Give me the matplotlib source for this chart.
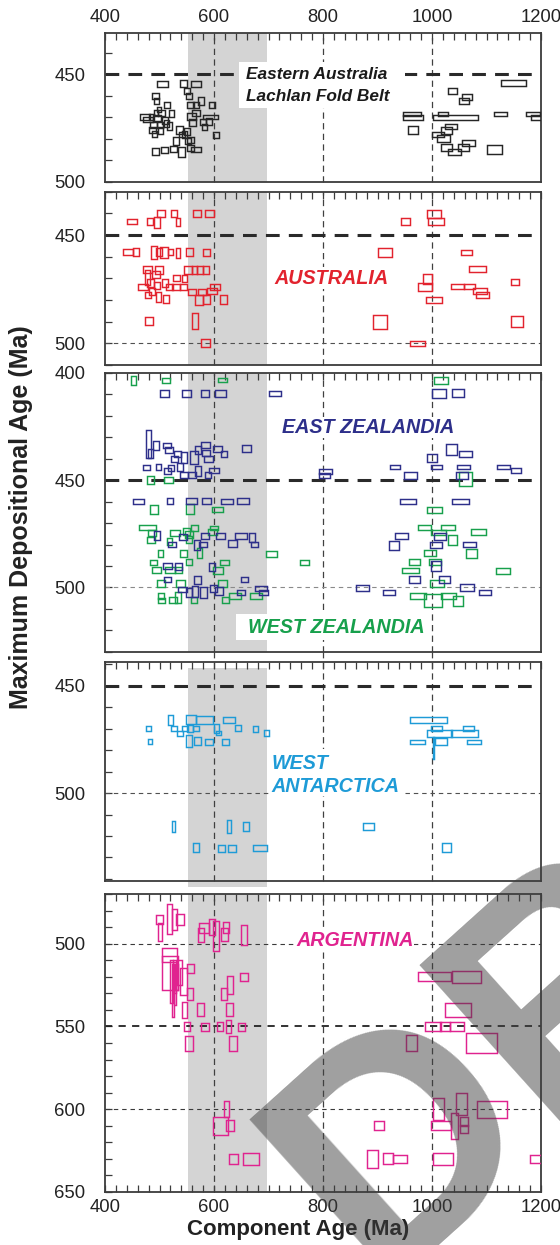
import matplotlib
matplotlib.use("Agg")
import matplotlib.pyplot as plt
from matplotlib.patches import Rectangle
from matplotlib.ticker import MultipleLocator, FixedLocator
import matplotlib.transforms as mtransforms

plt.rcParams['font.family'] = ['Liberation Sans', 'DejaVu Sans']

# ---------------------------------------------------------------- data
# each sample: component age (Ma) +/- half-range, depositional age (Ma) +/- half-range

# Eastern Australia - Lachlan Fold Belt
lfb_x = [506, 544, 567, 493, 494, 550, 554, 514, 557, 567, 576, 597, 473, 479, 496, 504,
         518, 522, 489, 487, 491, 501, 559, 567, 561, 594, 580, 591, 604, 537, 541, 550,
         557, 530, 557, 567, 540, 526, 509, 493, 485, 510, 499, 513, 494, 502, 583, 546, 552,
         1150, 1037, 1064, 1059, 964, 965, 1020, 1043, 1126, 1186, 1191, 965, 1035, 1026,
         1011, 1021, 1067, 1026, 1041, 1058, 1115]
lfb_dx = [10, 7, 8.5, 6, 4.5, 5.5, 5.5, 5.5, 6, 6, 5, 5.5, 9, 9, 7.5, 6,
          4.5, 4.5, 6, 6, 5, 6, 8, 6.5, 6.5, 13.5, 5.5, 6, 6, 6, 5, 5.5,
          6, 6, 6, 10, 6, 6, 6, 6, 5, 5, 4, 5, 4, 4.5, 5, 4, 5,
          23, 8, 9, 9, 16.5, 18.5, 9, 41.5, 11.5, 13, 10, 9.5, 11.5, 10,
          11.5, 11.5, 12.5, 10, 11.5, 10, 14]
lfb_y = [454.5, 454.4, 454.5, 460, 462.6, 457.9, 460.1, 464.3, 464.3, 464.3, 462.3, 464.3,
         469.9, 470.9, 470.5, 468, 474, 468.2, 473.6, 475.9, 477.9, 473.6, 469.7, 468, 472.5,
         470, 472.3, 472, 478.2, 476, 478, 476.7, 480.6, 481, 484.4, 485.2, 486, 484.9,
         485.4, 486, 470, 471.5, 466.5, 473, 468, 476, 474.5, 478, 481,
         454, 457.8, 460.5, 462.5, 468.5, 470, 468.5, 470, 468.5, 468.5, 470, 476, 474.4,
         476, 478, 480, 482, 484.2, 486.2, 484.2, 485.1]
lfb_dy = [1.4, 1.6, 1.4, 1.4, 1.4, 1.4, 1.3, 1.5, 1.5, 1.5, 1.9, 1.5, 1.4, 1.2, 1.5, 1.4,
          1.9, 1.5, 1.5, 1.5, 1.3, 1.5, 1.5, 1.4, 1.5, 1.0, 1.4, 1.5, 1.5, 1.7, 1.3, 1.5,
          1.5, 1.9, 1.5, 1.2, 2.3, 1.5, 1.4, 1.5, 1.3, 1.8, 1.3, 1.5, 1.4, 1.6, 1.5, 1.5, 1.5,
          1.4, 1.4, 1.4, 1.4, 1.1, 1.2, 1.1, 1.2, 1.1, 1.1, 1.1, 1.8, 1.2, 1.6,
          1.2, 1.6, 1.5, 1.6, 1.6, 1.6, 2.0]

# Australia
aus_x = [449, 482, 495, 503, 527, 534, 569, 592, 442, 457, 489, 499, 508, 521, 534, 555,
         586, 478, 499, 478, 493, 531, 546, 552, 564, 574, 585, 469, 483, 486, 479, 495,
         510, 498, 512, 518, 530, 544, 560, 573, 578, 586, 597, 602, 617, 481, 565, 585,
         952, 1004, 1007, 913, 1063, 1084, 992, 987, 1046, 1068, 1088, 1093, 1153, 1003,
         905, 1156, 973]
aus_dx = [9, 5.5, 5, 7, 5, 3.7, 8, 8, 9, 5.5, 5.5, 5, 7.5, 4.5, 4.3, 6.5,
          6, 7.5, 7, 4.5, 7, 6.5, 5, 7, 5, 5.5, 6, 9, 6.5, 6, 6, 6,
          6, 4.3, 5, 6, 7.5, 6.5, 7.5, 7.5, 8, 6, 9, 9, 6, 7.5, 6, 8,
          8, 13, 14.7, 12.8, 10.5, 15.4, 8, 13, 12, 10, 13, 11.5, 7.5, 14.7,
          12.5, 10.8, 14]
aus_y = [443.8, 443.8, 444.1, 440, 440, 444, 440, 440, 457.9, 458, 458, 458, 458, 458,
         458.2, 458, 457.9, 465.8, 466, 469.7, 468.2, 469.9, 470.1, 466, 466, 466, 466,
         473.8, 472, 476.1, 477.8, 473.2, 472, 478.6, 479.5, 474.2, 474.2, 473.9, 476.2,
         480.1, 476.1, 479.9, 475.7, 474.2, 479.7, 489.7, 489.7, 500,
         443.8, 440.2, 443.8, 458, 458.1, 465.6, 470.3, 474.1, 473.9, 473.9, 475.7, 477.9,
         471.8, 479.9, 490, 490, 500.1]
aus_dy = [1.2, 1.5, 2.5, 1.5, 1.5, 1.7, 1.5, 1.5, 1.4, 1.8, 3, 1.8, 2.5, 1.4, 2.3, 1.8,
          1.6, 1.5, 1.8, 3.5, 1.5, 1.4, 1.8, 1.8, 1.8, 1.8, 1.8, 1.4, 1.8, 1.5, 1.5, 1.5,
          1.8, 2.3, 1.7, 1.4, 1.4, 1.5, 1.5, 2.3, 1.4, 2.1, 1.4, 1.4, 2.0, 2.0, 3.5, 1.8,
          1.8, 1.8, 1.8, 2.0, 1.2, 1.4, 2.1, 1.8, 1.1, 1.1, 1.3, 1.4, 1.4, 1.3,
          3.2, 2.5, 1.1]

# East Zealandia
ez_x = [509, 550, 583, 612, 712, 479, 483, 493, 513, 518, 533, 528, 545, 563, 571, 584,
        585, 590, 607, 618, 659, 476, 498, 515, 521, 538, 545, 560, 571, 589, 600,
        461, 519, 558, 586, 623, 653,
        495, 523, 543, 569, 580, 584, 612, 634, 649, 670, 674, 515, 535, 596, 515, 570,
        656, 542, 554, 565, 581, 599, 609, 649, 686, 691,
        1013, 1048, 1036, 1062, 1000, 1008, 1058, 933, 1131, 960, 1055, 805, 803, 1154,
        956, 1052, 944, 930, 1015, 1008, 1068, 1007, 968, 1023, 1064, 1097, 921, 872]
ez_dx = [8, 8.5, 7.3, 9.5, 10.5, 4.6, 5, 5.5, 7.3, 7.3, 6, 6.7, 6, 7, 6, 8.5,
         7.6, 7.6, 8.5, 5.5, 8.2, 6.7, 5, 6.7, 6, 5.5, 7.6, 7.6, 6, 6, 8.5,
         10, 6, 10, 8, 11, 10.7,
         6, 7, 7.6, 5, 7.6, 7, 8.2, 7.6, 10.7, 5.2, 7, 8.5, 7, 6, 7, 6,
         7, 7.6, 5.2, 6, 6.7, 6.7, 7, 7.6, 10.7, 8.2,
         12.2, 11.3, 10, 11.6, 8.5, 9.5, 11.6, 9.2, 11.6, 12.2, 11.3, 11.5, 10.5, 9.8,
         14.7, 15.6, 12.2, 9, 11.6, 11, 12, 9.5, 9.8, 10.7, 12.2, 10.4, 10.7, 11.6]
ez_y = [409.7, 409.7, 409.7, 409.7, 409.6, 433.3, 437.6, 433.7, 433.9, 436, 437.8, 440.1,
        439.5, 439.5, 436, 433.6, 437.4, 440, 435.6, 437.8, 435.4, 444.1, 443.8, 445.8,
        444.1, 443.8, 447.8, 447.8, 445.8, 447.6, 445.6,
        459.8, 459.8, 459.8, 459.8, 459.8, 459.8,
        476, 479.9, 476.4, 480.2, 479.9, 475.9, 476.1, 479.5, 476.1, 476.7, 479.9, 490.2,
        490.2, 490.3, 496.2, 496.6, 496.2, 500.9, 502.6, 502, 502.4, 500.5, 501.8, 502.3,
        500.5, 502.4,
        409.5, 409.4, 435.6, 437.8, 439.6, 443.8, 443.8, 443.8, 443.8, 447.8, 447.8, 445.8,
        447.9, 445.5, 459.8, 459.8, 476.1, 480.4, 476.1, 480.2, 480.1, 490, 496.4, 496.3,
        500.2, 502.3, 502.3, 500.3]
ez_dy = [1.6, 1.6, 1.6, 1.6, 1.2, 6.5, 2.2, 2.1, 1.3, 1.3, 1.6, 1.3, 2.5, 3, 1.8, 1.6,
         1.3, 1.4, 1.4, 1.6, 1.6, 1.1, 1.3, 1.3, 1.4, 1.8, 1.4, 1.4, 2.2, 1.5, 1.1,
         1.2, 1.3, 1.3, 1.3, 1.2, 1.3,
         2.1, 1.3, 1.4, 2.3, 1.3, 1.5, 1.4, 1.7, 1.4, 2.3, 1.3, 1.4, 1.7, 1.9, 1.2, 1.9,
         1.2, 1.2, 2.1, 2.6, 2.7, 1.5, 1.8, 1.3, 1.1, 1.2,
         2.2, 1.8, 2.5, 1.6, 1.8, 1.0, 1.0, 1.0, 1.0, 1.7, 1.7, 1.2, 1.3, 1.0,
         1.2, 1.2, 1.25, 2.0, 1.6, 1.3, 1.2, 2.2, 1.6, 1.5, 1.7, 1.2, 1.2, 1.4]

# West Zealandia
wz_x = [452, 512, 616, 1016, 483, 516, 490, 556, 606, 478, 486, 484, 528, 518, 549, 564,
        554, 555, 600, 598, 502, 544, 573, 489, 494, 519, 535, 555, 607, 619, 503, 538,
        616, 503, 504, 525, 534, 564, 621, 639, 677, 705, 766,
        1005, 986, 1029, 1012, 1086, 1038, 1072, 996, 968, 961, 1005, 1130, 1009, 974,
        1002, 1031, 1047, 1062]
wz_dx = [4.9, 7.3, 8.2, 13, 6.7, 8, 7, 6.5, 10, 15.6, 7, 7.6, 9, 4.5, 6.5, 7,
         7, 5.5, 8.2, 8.2, 4.5, 6.7, 4.5, 6, 8.2, 9, 7, 5.5, 9, 8, 7, 8,
         8, 6, 6, 7, 6, 5.5, 7, 11, 11.5, 9.8, 8.8,
         14, 11.3, 13.4, 13, 13.7, 8.5, 9.8, 10.7, 10.4, 15.3, 10.7, 12.8, 13, 14.7,
         17, 13.7, 9.2, 11.6]
wz_y = [403.4, 403.3, 403.3, 403.4, 450, 449.9, 463.6, 463.4, 463.7, 472.1, 474.7, 478,
        474.5, 478.6, 473.9, 472.3, 475.5, 477.8, 472.3, 474.1, 484.1, 484.1, 484.1, 488.4,
        491.9, 492, 492, 488.2, 492.2, 488.4, 498.1, 498.1, 498.1, 504, 506.3, 506.1,
        504.6, 506.1, 506.1, 504.2, 504.2, 484.3, 488.4,
        463.7, 472.1, 472.1, 474.2, 474.1, 478, 484.1, 484.1, 488.1, 492.1, 488.1, 492.3,
        498, 504.1, 506.1, 504.1, 506.4, 449.5]
wz_dy = [2, 1.2, 0.9, 1.5, 1.8, 1.2, 2, 2.2, 1.2, 1.3, 1.25, 1.4, 1.4, 1.5, 1.6, 1.5,
         1.6, 1.6, 1.1, 1.3, 1.5, 1.5, 2.3, 1.2, 1.25, 1.4, 1.4, 1.3, 1.5, 1.2, 1.5, 1.5,
         1.5, 1.2, 1.2, 1.4, 2.6, 1.4, 1.4, 1.4, 1.4, 1.3, 1.2,
         1.4, 1.2, 1.2, 1.2, 1.4, 2.3, 2, 1.4, 1.4, 1.2, 1.4, 1.3, 1.6, 1.4,
         3.1, 1.4, 2.2, 3.1]

# West Antarctica
wa_x = [480, 483, 521, 527, 537, 547, 558, 583, 556, 567, 604, 608, 628, 644, 676, 696,
        554, 570, 591, 621, 526, 567, 627, 659, 613, 633, 684, 884, 1026,
        994, 1008, 1014, 1059, 1067, 974, 1017, 1077, 1003]
wa_dx = [4, 3.7, 4.6, 5.2, 5.5, 6, 9.8, 15.9, 5, 5, 4.9, 4.3, 10.7, 5, 5, 4.3,
         5.2, 6.7, 7.3, 6.7, 3.3, 5.9, 3.9, 5.9, 6.5, 6.5, 12.8, 10, 8.5,
         33.7, 9.8, 23.2, 24.5, 9.8, 13.7, 10.8, 13, 0.8]
wa_y = [469.8, 476, 465.9, 469.8, 472.1, 469.8, 465.7, 465.9, 469.8, 469.8, 470, 472,
        465.9, 469.8, 470, 472.1, 475.6, 475.9, 476, 476, 515.6, 525.6, 515.5, 515.5,
        525.7, 525.7, 525.7, 515.6, 525.6,
        466, 469.8, 472.1, 472.1, 469.9, 476.2, 476, 476.2, 479]
wa_dy = [1.1, 1.1, 2.3, 1.1, 1.25, 1.1, 2.1, 1.9, 1.5, 1.1, 2.2, 1.1, 1.25, 1.4, 1.5, 1.5,
         2.7, 1.9, 1.4, 1.4, 2.5, 2.1, 2.9, 2.1, 1.7, 1.7, 1.4, 1.7, 2.1,
         1.5, 1.25, 1.6, 1.6, 1.2, 1.0, 1.6, 1.0, 5]

# Argentina
arg_x = [500, 501, 519, 527, 538, 576, 582, 596, 604, 619, 622, 655, 519, 520, 522, 525,
         527, 529, 531, 537, 544, 557, 556, 546, 575, 618, 629, 655, 628, 550, 583, 611,
         626, 650, 554, 635, 623, 612, 629, 635, 668,
         1004, 1063, 1048, 1002, 1024, 1046, 962, 1090, 1012, 1054, 1110, 1017, 1042, 1059,
         1059, 903, 891, 919, 941, 1020, 1191]
arg_dx = [6.7, 4, 4.6, 4.3, 7, 6, 9.2, 6, 5.5, 7, 6, 5.2, 13.7, 14.7, 2, 2,
          2.5, 2, 2.5, 4.9, 5.6, 7, 4.9, 5.2, 6, 5.8, 5.5, 7.6, 6, 5.5, 7.3, 5.5,
          4.6, 6.7, 7.6, 7.3, 4.6, 14, 7.5, 8.2, 14,
          30.1, 26.8, 23.9, 14.1, 9.8, 13.1, 9.8, 28.5, 10.8, 9.8, 27.2, 18.7, 6.5, 7.9,
          7.9, 9.8, 10.8, 8.8, 13.1, 18, 11.5]
arg_y = [485.1, 492.9, 484.9, 485, 485, 494.6, 490.3, 490, 495.2, 494.4, 490, 494.8,
         506.7, 517.4, 523, 528, 520, 525, 520, 517.1, 522.7, 514.9, 530.3, 540.1, 539.9,
         530.3, 525, 520, 539.9, 550, 550.1, 550, 550, 550.1, 560.1, 560.1, 599.8, 610.2,
         610, 630.2, 630.2,
         519.8, 519.9, 540.2, 550, 550, 550, 560, 559.9, 600, 597, 600.1, 609.9, 610.2,
         607.5, 612.2, 609.9, 630.2, 630, 630.2, 630.2, 630.2]
arg_dy = [2.8, 5.6, 9.1, 6.4, 3.3, 4.2, 3, 4.8, 8.9, 4, 3.3, 6.1, 4.2, 10.3, 13, 16,
          10, 12, 8, 7.6, 8.1, 2.7, 3.5, 4.9, 4, 3.5, 5.4, 2.3, 4, 3, 2.5, 3,
          4, 2.5, 4.6, 4.6, 4.8, 5.2, 3.3, 3.3, 3.7,
          2.8, 3.7, 4.3, 3, 3, 3, 4.6, 5.9, 6.6, 6.6, 5.1, 2.8, 8, 2.5,
          2.5, 2.8, 5.4, 3.5, 2.7, 3.7, 2.7]

# axis settings
x_range = (400, 1200)
x_labels = [400, 600, 800, 1000, 1200]
grid_x = [600, 800, 1000]
band_x = (552, 698)

# ---------------------------------------------------------------- styling
C_LFB = '#262626'
C_AUS = '#e2232e'
C_EZ = '#2d2f8a'
C_WZ = '#17a04c'
C_WA = '#1e9bd7'
C_ARG = '#e0238f'
SPINE = '#3c3c3c'
TXT = '#222222'
BAND = '#d4d4d4'

W, H = 560, 1245
fig = plt.figure(figsize=(W / 100, H / 100), dpi=100)

LEFT = 105 / W
WIDTH = (541 - 105) / W


def add_panel(top_px, bot_px):
    return fig.add_axes([LEFT, 1 - bot_px / H, WIDTH, (bot_px - top_px) / H])


def draw_boxes(ax, xs, dxs, ys, dys, color):
    for x, dx, y, dy in zip(xs, dxs, ys, dys):
        ax.add_patch(Rectangle((x - dx, y - dy), 2 * dx, 2 * dy, fill=False,
                               ec=color, lw=1.05, zorder=3))


def style(ax, ylim, yt, top_labels=False, bottom=False):
    ax.set_xlim(*x_range)
    ax.set_ylim(*ylim)
    for s in ax.spines.values():
        s.set_color(SPINE)
        s.set_linewidth(1.3)
    ax.yaxis.set_major_locator(FixedLocator(yt))
    ax.yaxis.set_minor_locator(MultipleLocator(10))
    ax.tick_params(axis='y', which='both', direction='in', length=5, width=0.9,
                   color=SPINE, left=True, right=False, labelsize=13.3,
                   labelcolor=TXT, pad=14)
    ax.xaxis.set_major_locator(FixedLocator(x_labels))
    ax.xaxis.set_minor_locator(MultipleLocator(20))
    ax.tick_params(axis='x', which='both', direction='in', length=5, width=0.9,
                   color=SPINE, top=True, bottom=bottom, labeltop=top_labels,
                   labelbottom=bottom, labelsize=13.3, labelcolor=TXT, pad=5)


def thick_h(ax, y):
    ax.axhline(y, color='#2a2a2a', lw=2.2, ls=(0, (4.5, 3)), zorder=2)


def thin_h(ax, y, lw=0.8, color='#505050'):
    ax.axhline(y, color=color, lw=lw, ls=(0, (4, 3.5)), zorder=2)


def vlines(ax, ymax=1.0):
    for gx in grid_x:
        ax.axvline(gx, ymin=0, ymax=ymax, color='#404040', lw=0.9,
                   ls=(0, (5, 3.5)), zorder=2, clip_on=False)


def band(ax, y0=0.0, y1=1.0):
    tr = mtransforms.blended_transform_factory(ax.transData, ax.transAxes)
    ax.add_patch(Rectangle((band_x[0], y0), band_x[1] - band_x[0], y1 - y0,
                           transform=tr, fc=BAND, ec='none', zorder=0, clip_on=False))


def white_box(ax, x0, x1, y0, y1):
    ax.add_patch(Rectangle((x0, y0), x1 - x0, y1 - y0, fc='white', ec='none', zorder=4))


lab = dict(fontsize=14.2, fontweight='bold', fontstyle='italic', zorder=5)

# ---- panel 1: Eastern Australia (Lachlan Fold Belt)
ax1 = add_panel(33.3, 181.7)
style(ax1, (500, 431), [450, 500], top_labels=True)
band(ax1)
vlines(ax1)
thick_h(ax1, 450)
draw_boxes(ax1, lfb_x, lfb_dx, lfb_y, lfb_dy, C_LFB)
white_box(ax1, 645, 950, 444.3, 465.8)
ax1.text(659, 450, 'Eastern Australia', ha='left', va='center', color='#1a1a1a',
         fontsize=12.4, fontweight='bold', fontstyle='italic', zorder=5)
ax1.text(659, 460.2, 'Lachlan Fold Belt', ha='left', va='center', color='#1a1a1a',
         fontsize=12.4, fontweight='bold', fontstyle='italic', zorder=5)

# ---- panel 2: Australia
ax2 = add_panel(191.7, 365)
style(ax2, (510, 430), [450, 500])
band(ax2)
vlines(ax2)
thick_h(ax2, 450)
thin_h(ax2, 500)
draw_boxes(ax2, aus_x, aus_dx, aus_y, aus_dy, C_AUS)
ax2.text(816, 470, 'AUSTRALIA', ha='center', va='center', color=C_AUS,
         bbox=dict(fc='white', ec='none', pad=1), **lab)

# ---- panel 3: East and West Zealandia
ax3 = add_panel(373, 651.7)
style(ax3, (530, 400), [400, 450, 500])
band(ax3)
vlines(ax3)
thick_h(ax3, 450)
thin_h(ax3, 500, color='#8a8a8a')
draw_boxes(ax3, wz_x, wz_dx, wz_y, wz_dy, C_WZ)
draw_boxes(ax3, ez_x, ez_dx, ez_y, ez_dy, C_EZ)
ax3.text(882, 425.4, 'EAST ZEALANDIA', ha='center', va='center', color=C_EZ,
         bbox=dict(fc='white', ec='none', pad=1), **lab)
white_box(ax3, 640, 992, 512.2, 524.7)
ax3.text(824, 518.5, 'WEST ZEALANDIA', ha='center', va='center', color=C_WZ, **lab)

# ---- panel 4: West Antarctica
ax4 = add_panel(662.3, 881)
style(ax4, (541, 439), [450, 500])
band(ax4, -0.027, 0.974)
vlines(ax4, ymax=1.048)
thick_h(ax4, 450)
thin_h(ax4, 500)
draw_boxes(ax4, wa_x, wa_dx, wa_y, wa_dy, C_WA)
white_box(ax4, 700, 945, 479.4, 501.2)
ax4.text(706, 486.4, 'WEST', ha='left', va='center', color=C_WA, **lab)
ax4.text(706, 497, 'ANTARCTICA', ha='left', va='center', color=C_WA, **lab)

# ---- panel 5: Argentina
ax5 = add_panel(894.3, 1191.7)
style(ax5, (650, 470), [500, 550, 600, 650], bottom=True)
band(ax5)
vlines(ax5)
thin_h(ax5, 500, color='#3a3a3a')
thin_h(ax5, 550, lw=1.3, color='#222222')
thin_h(ax5, 600, color='#3a3a3a')
draw_boxes(ax5, arg_x, arg_dx, arg_y, arg_dy, C_ARG)
ax5.text(858, 498, 'ARGENTINA', ha='center', va='center', color=C_ARG,
         bbox=dict(fc='white', ec='none', pad=0.5), **lab)

# ---- axis titles
fig.text(298 / W, 1 - 1230 / H, 'Component Age (Ma)', ha='center', va='center',
         fontsize=16, fontweight='bold', color=TXT)
fig.text(21 / W, 1 - 517 / H, 'Maximum Depositional Age (Ma)', ha='center',
         va='center', rotation=90, fontsize=18, fontweight='bold', color=TXT)

# ---- watermark
fig.text(0.670, -0.030, 'DRAFT', rotation=42, rotation_mode='anchor', ha='left',
         va='baseline', fontsize=230, fontweight='bold', color='#404040',
         alpha=0.5, zorder=10)

fig.savefig('out.png', dpi=100)
